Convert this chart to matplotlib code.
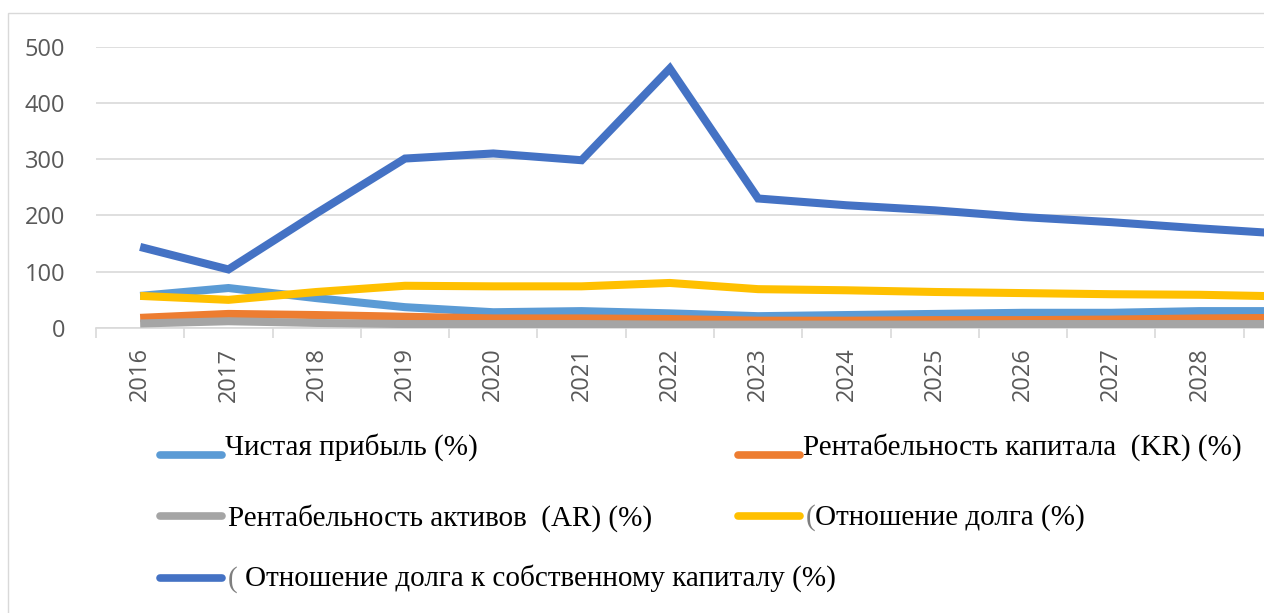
import matplotlib
matplotlib.use("Agg")
import matplotlib.pyplot as plt
from matplotlib.lines import Line2D
from matplotlib.patches import Rectangle

years = [str(y) for y in range(2016, 2030)]
net_profit = [57, 71, 53, 37, 28, 30, 26, 21, 23, 25, 27, 27, 30, 30]
kr = [18, 25, 23, 20, 17, 17, 16, 13, 13, 14, 14, 15, 17, 18]
ar = [8, 12, 9, 7, 7, 7, 6, 6, 6, 6, 7, 7, 7, 7]
debt_ratio = [57, 50, 64, 75, 74, 74, 80, 69, 67, 64, 62, 60, 59, 56]
debt_equity = [144, 104, 204, 301, 310, 298, 461, 230, 218, 209, 197, 188, 177, 167]

labels = ["Чистая прибыль (%)",
          "Рентабельность капитала  (KR) (%)",
          "Рентабельность активов  (AR) (%)",
          "Отношение долга (%)",
          "Отношение долга к собственному капиталу (%)"]
colors = ["#5B9BD5", "#ED7D31", "#A5A5A5", "#FFC000", "#4472C4"]
series = [net_profit, kr, ar, debt_ratio, debt_equity]

W, H = 1264, 613
fig = plt.figure(figsize=(W / 100, H / 100), dpi=100)

# chart frame
fig.patches.append(Rectangle((8 / W, -0.1), 1.2, (H - 13) / H + 0.1,
                             transform=fig.transFigure, fill=False,
                             edgecolor="#D9D9D9", lw=1.0))

ax = fig.add_axes([96 / W, (H - 328) / H, (W - 96) / W, (328 - 46.5) / H])
x = list(range(len(years)))
# draw order: gray, orange, light blue, yellow, dark blue
for i in [2, 1, 0, 3, 4]:
    ax.plot(x, series[i], color=colors[i], lw=5.8, solid_joinstyle="miter",
            solid_capstyle="butt", zorder=3 + i * 0.1)

ax.set_yticks([0, 100, 200, 300, 400, 500])
ax.set_xticks(x)
ax.set_xticklabels(years, rotation=90)
ax.set_xticks([i - 0.5 for i in range(len(years) + 1)], minor=True)
ax.set_ylim(0, 500)
ax.set_xlim(-0.5, 12.73)
ax.grid(axis="y", color="#D9D9D9", lw=1.2, zorder=0)
for s in ["top", "right", "left"]:
    ax.spines[s].set_visible(False)
ax.spines["bottom"].set_color("#D9D9D9")
ax.spines["bottom"].set_linewidth(1.2)
ax.tick_params(axis="y", length=0, pad=22, labelsize=17, labelcolor="#595959")
ax.tick_params(axis="x", which="major", length=0, pad=14, labelsize=17,
               labelcolor="#595959")
ax.tick_params(axis="x", which="minor", length=7, width=1.2, color="#D9D9D9")
for t in ax.get_xticklabels() + ax.get_yticklabels():
    t.set_fontfamily("Open Sans")

# legend (manual layout)
leg_pos = [(160, 455, 225, 447), (738, 455, 803, 447),
           (160, 516, 228, 518), (738, 516, 815, 518),
           (160, 578, 245, 578)]
for i, (lx, ly, tx, ty) in enumerate(leg_pos):
    fig.add_artist(Line2D([lx / W, 222 / W + (lx - 160) / W],
                          [1 - ly / H, 1 - ly / H],
                          transform=fig.transFigure, color=colors[i],
                          lw=5.5, solid_capstyle="round"))
    fig.text(tx / W, 1 - ty / H, labels[i], fontfamily="Liberation Serif",
             fontsize=21, va="center", ha="left", color="black")
# stray brackets
fig.text(806 / W, 1 - 518 / H, "(", fontfamily="Liberation Serif",
         fontsize=21, va="center", ha="left", color="#7F7F7F")
fig.text(228 / W, 1 - 580 / H, "(", fontfamily="Liberation Serif",
         fontsize=21, va="center", ha="left", color="#7F7F7F")

fig.savefig("out.png", dpi=100)
